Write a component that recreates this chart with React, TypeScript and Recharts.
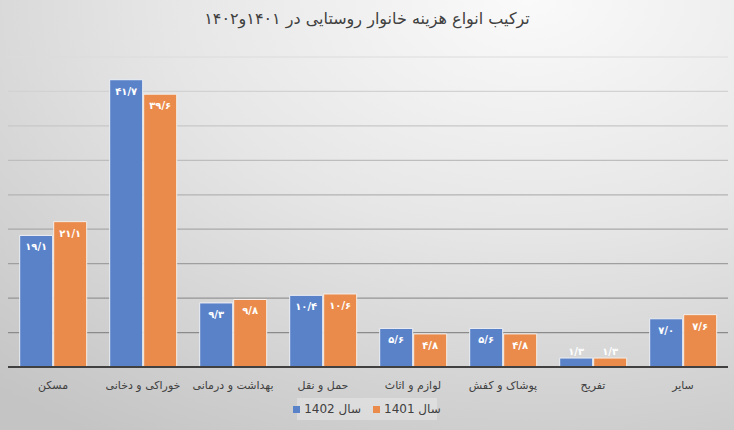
import React from "react";
import { BarChart, Bar, XAxis, YAxis, CartesianGrid, LabelList } from "recharts";

document.body.style.margin = "0";

const categories = ["مسکن", "خوراکی و دخانی", "بهداشت و درمانی", "حمل و نقل", "لوازم و اثاث", "پوشاک و کفش", "تفریح", "سایر"];
const values1402 = [19.1, 41.7, 9.3, 10.4, 5.6, 5.6, 1.3, 7.0];
const values1401 = [21.1, 39.6, 9.8, 10.6, 4.8, 4.8, 1.3, 7.6];
const yTicks = [0, 5, 10, 15, 20, 25, 30, 35, 40, 45];

const data = categories.map((name, i) => ({ name, y1402: values1402[i], y1401: values1401[i] }));

const FA = "'DejaVu Sans', sans-serif";
const toFa = (v: number) =>
  v.toFixed(1).replace(".", "/").replace(/[0-9]/g, (d) => "۰۱۲۳۴۵۶۷۸۹"[+d]);

function ValueLabel(props: any) {
  const { x, y, width, height, value } = props;
  const small = height < 22;
  return (
    <text
      x={x + width / 2}
      y={small ? y - 6 : y + 12}
      textAnchor="middle"
      fill="#ffffff"
      fontFamily={FA}
      fontWeight="bold"
      fontSize={10}
      letterSpacing={0.6}
      dominantBaseline="middle"
    >
      {toFa(value)}
    </text>
  );
}

function CatTick(props: any) {
  const { x, y, payload } = props;
  return (
    <text x={x} y={y + 14} textAnchor="middle" fill="#404040" fontFamily={FA} fontSize={11} direction="rtl">
      {payload.value}
    </text>
  );
}

export default function App() {
  return (
    <div
      style={{
        position: "relative",
        width: 734,
        height: 430,
        background: "radial-gradient(ellipse 110% 120% at 72% 0%, #fafafa 0%, #e6e6e6 45%, #c4c4c4 100%)",
        overflow: "hidden",
      }}
    >
      <div
        style={{
          position: "absolute",
          top: 9,
          left: 0,
          width: 734,
          textAlign: "center",
          fontFamily: FA,
          fontSize: 16,
          color: "#404040",
          direction: "rtl",
        }}
      >
        ترکیب انواع هزینه خانوار روستایی در ۱۴۰۱و۱۴۰۲
      </div>
      <BarChart
        width={734}
        height={430}
        data={data}
        margin={{ top: 57, right: 6, bottom: 0, left: 8 }}
        barCategoryGap="13%"
        barGap={1}
        style={{ position: "absolute", top: 0, left: 0 }}
      >
        <defs>
          <linearGradient id="gridGrad" gradientUnits="userSpaceOnUse" x1="0" y1="57" x2="0" y2="367">
            <stop offset="0%" stopColor="#dcdcdc" />
            <stop offset="100%" stopColor="#808080" />
          </linearGradient>
        </defs>
        <CartesianGrid vertical={false} stroke="url(#gridGrad)" strokeWidth={1.2} />
        <YAxis hide domain={[0, 45]} ticks={yTicks} />
        <XAxis
          dataKey="name"
          height={63}
          axisLine={{ stroke: "#404040", strokeWidth: 2 }}
          tickLine={false}
          tick={<CatTick />}
          interval={0}
        />
        <Bar dataKey="y1402" fill="#5a82c9" stroke="#eef0f4" strokeWidth={1} isAnimationActive={false}>
          <LabelList dataKey="y1402" content={<ValueLabel />} />
        </Bar>
        <Bar dataKey="y1401" fill="#eb8b4b" stroke="#f4eee8" strokeWidth={1} isAnimationActive={false}>
          <LabelList dataKey="y1401" content={<ValueLabel />} />
        </Bar>
      </BarChart>
      <div
        style={{
          position: "absolute",
          left: 297,
          top: 398,
          width: 140,
          height: 22,
          background: "rgba(255,255,255,0.28)",
          display: "flex",
          alignItems: "center",
          justifyContent: "center",
          gap: 12,
          fontSize: 13,
          color: "#404040",
          whiteSpace: "nowrap",
        }}
      >
        <span style={{ display: "flex", alignItems: "center", gap: 4 }}>
          <span style={{ width: 7, height: 7, background: "#5a82c9", display: "inline-block" }} />
          <span style={{ direction: "rtl", fontFamily: FA, fontSize: 12, whiteSpace: "nowrap" }}>سال 1402</span>
        </span>
        <span style={{ display: "flex", alignItems: "center", gap: 4 }}>
          <span style={{ width: 7, height: 7, background: "#eb8b4b", display: "inline-block" }} />
          <span style={{ direction: "rtl", fontFamily: FA, fontSize: 12, whiteSpace: "nowrap" }}>سال 1401</span>
        </span>
      </div>
    </div>
  );
}
